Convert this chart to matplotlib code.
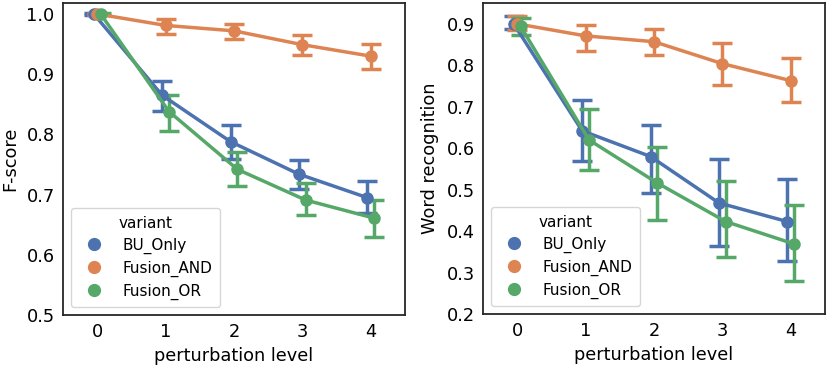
import matplotlib
matplotlib.use("Agg")
import matplotlib.pyplot as plt
import numpy as np

levels = [0, 1, 2, 3, 4]
variants = ["BU_Only", "Fusion_AND", "Fusion_OR"]
colors = ["#4C72B0", "#DD8452", "#55A868"]

# F-score: mean, lower, upper
f_mean = {
    "BU_Only":    [1.000, 0.865, 0.788, 0.734, 0.695],
    "Fusion_AND": [1.000, 0.981, 0.972, 0.949, 0.930],
    "Fusion_OR":  [1.000, 0.838, 0.742, 0.691, 0.661],
}
f_low = {
    "BU_Only":    [0.998, 0.839, 0.759, 0.710, 0.669],
    "Fusion_AND": [0.999, 0.967, 0.959, 0.932, 0.909],
    "Fusion_OR":  [0.999, 0.806, 0.714, 0.666, 0.630],
}
f_high = {
    "BU_Only":    [1.002, 0.889, 0.815, 0.757, 0.722],
    "Fusion_AND": [1.001, 0.991, 0.984, 0.965, 0.950],
    "Fusion_OR":  [1.001, 0.865, 0.771, 0.719, 0.691],
}

# Word recognition: mean, lower, upper
w_mean = {
    "BU_Only":    [0.900, 0.642, 0.580, 0.468, 0.423],
    "Fusion_AND": [0.900, 0.871, 0.857, 0.804, 0.763],
    "Fusion_OR":  [0.894, 0.620, 0.516, 0.423, 0.369],
}
w_low = {
    "BU_Only":    [0.887, 0.570, 0.491, 0.365, 0.327],
    "Fusion_AND": [0.884, 0.835, 0.824, 0.752, 0.711],
    "Fusion_OR":  [0.873, 0.548, 0.428, 0.337, 0.279],
}
w_high = {
    "BU_Only":    [0.919, 0.717, 0.656, 0.573, 0.525],
    "Fusion_AND": [0.918, 0.898, 0.888, 0.853, 0.817],
    "Fusion_OR":  [0.914, 0.694, 0.604, 0.520, 0.462],
}

offsets = [-0.05, 0.0, 0.05]

plt.rcParams["font.family"] = "DejaVu Sans"

fig = plt.figure(figsize=(8.29, 3.69), dpi=100)
ax1 = fig.add_axes([0.076, 0.146, 0.4125, 0.8455])
ax2 = fig.add_axes([0.5826, 0.149, 0.4125, 0.8425])


def draw(ax, mean, low, high, ylabel, ylim, yticks):
    x = np.array(levels, dtype=float)
    for v, c, off in zip(variants, colors, offsets):
        m = np.array(mean[v])
        lo = m - np.array(low[v])
        hi = np.array(high[v]) - m
        ax.errorbar(x + off, m, yerr=[lo, hi], color=c, lw=2.5, marker="o",
                    ms=8, capsize=7, capthick=2.5, elinewidth=2.5, label=v)
    ax.set_xlim(-0.5, 4.5)
    ax.set_ylim(*ylim)
    ax.set_xticks(levels)
    ax.set_yticks(yticks)
    ax.set_yticklabels([f"{t:.1f}" for t in yticks])
    ax.tick_params(labelsize=12.8, length=0, pad=6)
    ax.set_xlabel("perturbation level", fontsize=12.8, labelpad=4)
    ax.set_ylabel(ylabel, fontsize=12.8, labelpad=5)
    for s in ax.spines.values():
        s.set_color("#262626")
        s.set_linewidth(1.3)
    handles = [plt.Line2D([], [], ls="", marker="o", ms=8.5, color=c) for c in colors]
    leg = ax.legend(handles, variants, title="variant", loc="lower left",
                    fontsize=11, title_fontsize=11, frameon=True,
                    handletextpad=0.9, borderpad=0.5, labelspacing=0.45)
    leg.get_frame().set_edgecolor("#cccccc")


draw(ax1, f_mean, f_low, f_high, "F-score", (0.5, 1.018), [0.5, 0.6, 0.7, 0.8, 0.9, 1.0])
draw(ax2, w_mean, w_low, w_high, "Word recognition", (0.2, 0.95),
     [0.2, 0.3, 0.4, 0.5, 0.6, 0.7, 0.8, 0.9])

fig.savefig("out.png", dpi=100)
